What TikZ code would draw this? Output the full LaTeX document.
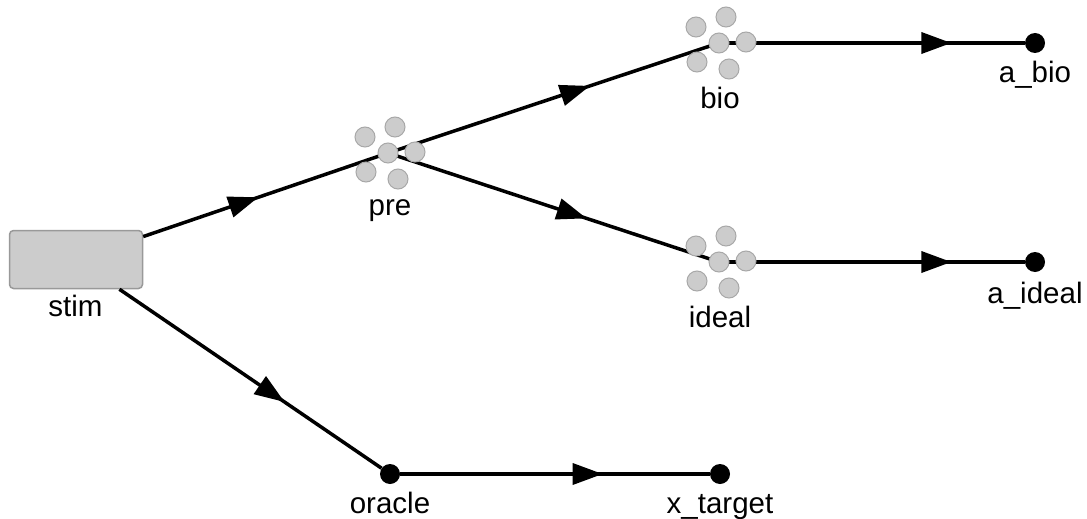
\documentclass[tikz,border=0pt]{standalone}
\usepackage{fontspec}
\setmainfont{Liberation Sans}
\usetikzlibrary{arrows.meta,decorations.markings,calc}
\definecolor{ensfill}{HTML}{CCCCCC}
\definecolor{ensdraw}{HTML}{A8A8A8}
\definecolor{boxdraw}{HTML}{999999}
\tikzset{
  conn/.style={line width=3.5pt, draw=black},
  midarrow/.style={postaction={decorate,decoration={markings,mark=at position #1 with {\arrow{Triangle[length=30pt,width=21pt]}}}}},
  ens/.style={circle, fill=ensfill, draw=ensdraw, line width=1pt, minimum size=20pt, inner sep=0pt},
  probe/.style={circle, fill=black, minimum size=20pt, inner sep=0pt},
  lbl/.style={font=\fontsize{29.5}{32}\selectfont, anchor=base, inner sep=0pt},
  stimbox/.style={rectangle, rounded corners=4pt, fill=ensfill, draw=boxdraw, line width=1.5pt, minimum width=133pt, minimum height=58pt, inner sep=0pt}
}
\begin{document}
\begin{tikzpicture}[x=1pt,y=-1pt]
\useasboundingbox (0,0) rectangle (1087,519);
% nodes
\node[stimbox] (stim) at (76,259.5) {};
\coordinate (pre) at (388,153);
\coordinate (bio) at (719,43);
\coordinate (ideal) at (719,262);
\node[probe] (oracle) at (390,474) {};
\node[probe] (xtarget) at (720,474) {};
\node[probe] (abio) at (1035,43) {};
\node[probe] (aideal) at (1035,262) {};
% connections
\draw[conn, midarrow=0.47] (stim) -- (pre);
\draw[conn, midarrow=0.61] (pre) -- (bio);
\draw[conn, midarrow=0.60] (pre) -- (ideal);
\draw[conn, midarrow=0.63] (stim) -- (oracle);
\draw[conn, midarrow=0.654] (oracle) -- (xtarget);
\draw[conn, midarrow=0.76] (bio) -- (abio);
\draw[conn, midarrow=0.76] (ideal) -- (aideal);
% ensembles
\foreach \c in {pre,bio,ideal}{
  \foreach \dx/\dy [count=\i] in {7/-26, -23/-16, 0/0, 27/-1, -22/19, 10/26}{
    \node[ens] (\c-n\i) at ($(\c)+(\dx,\dy)$) {};
  }
}
% labels
\node[lbl] (stimlbl) at (75.5,316) {stim};
\node[lbl] (prelbl) at (390,215) {pre};
\node[lbl] (biolbl) at (720,108) {bio};
\node[lbl] (ideallbl) at (720,327) {ideal};
\node[lbl] (abiolbl) at (1035,82) {a\_bio};
\node[lbl] (aideallbl) at (1035,303) {a\_ideal};
\node[lbl] (oraclelbl) at (390,513) {oracle};
\node[lbl] (xtargetlbl) at (720,513) {x\_target};
\end{tikzpicture}
\end{document}
